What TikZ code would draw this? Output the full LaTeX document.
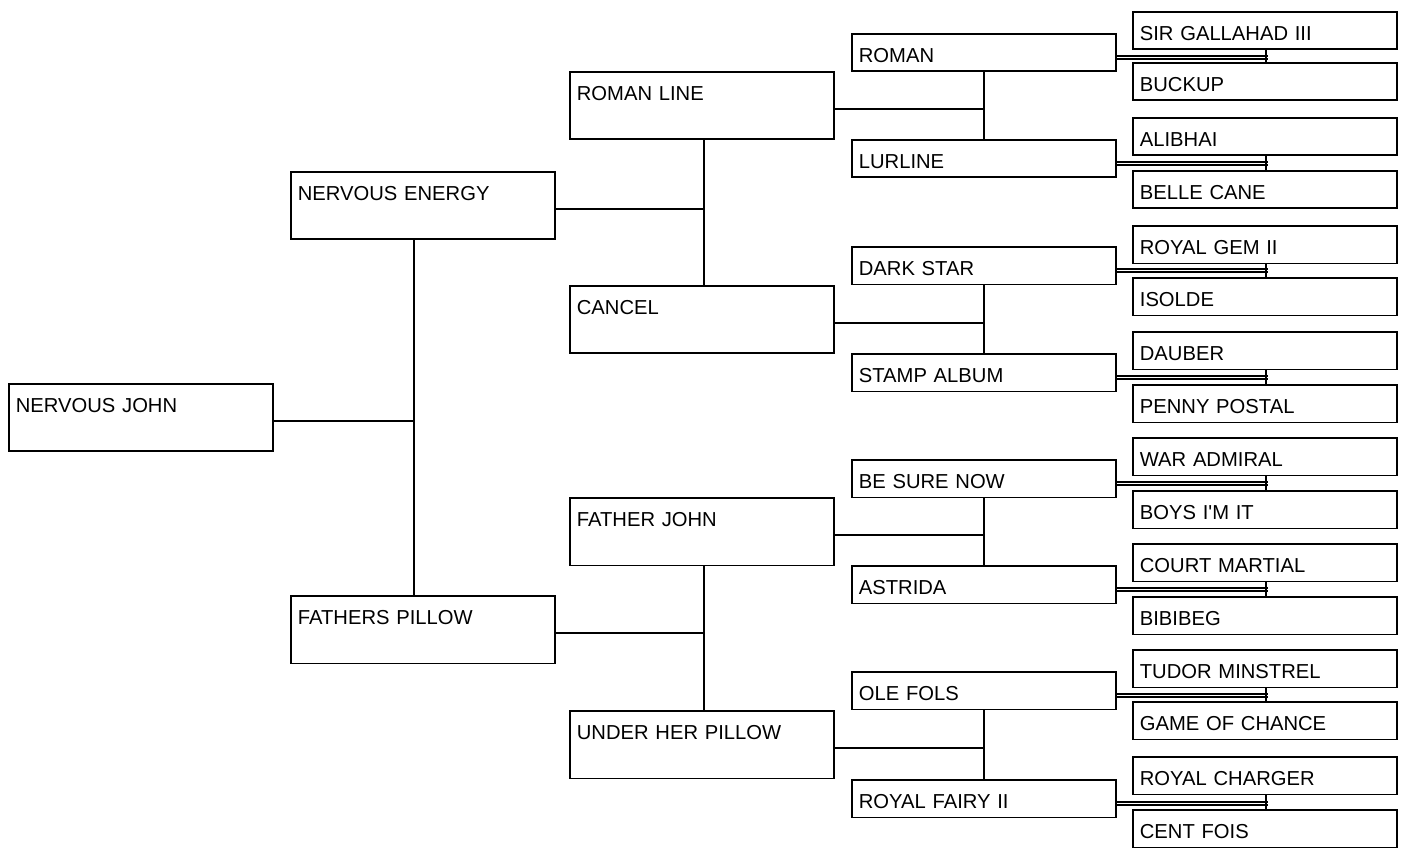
\documentclass[tikz,border=0pt]{standalone}
\usepackage{fontspec}
\setmainfont{Liberation Sans}
\usepackage{tikz}

\begin{document}
\begin{tikzpicture}[x=0.02cm, y=-0.02cm,
    horse/.style={draw, line width=1pt, anchor=north west, inner xsep=0.14cm,
      inner ysep=0pt, text width=5.0cm, align=left, text height=0.57cm,
      font=\fontsize{11.5}{13}\selectfont},
    big/.style={horse, text depth=0.78cm},
    small/.style={horse, text depth=0.18cm},
    link/.style={line width=1pt}]
  \useasboundingbox (0,0) rectangle (1405,856);
  %% Horse and parents
  \node[big] (nj) at (8,383) {NERVOUS JOHN};
  \node[big] (nenergy) at (290,171) {NERVOUS ENERGY};
  \node[big] (fpillow) at (290,595) {FATHERS PILLOW};
  %% Grandparents
  \node[big] (romanline) at (569,71) {ROMAN LINE};
  \node[big] (cancel) at (569,285) {CANCEL};
  \node[big] (fjohn) at (569,497) {FATHER JOHN};
  \node[big] (uhpillow) at (569,710) {UNDER HER PILLOW};
  %% Great-grandparents
  \node[small] (roman) at (851,33) {ROMAN};
  \node[small] (lurline) at (851,139) {LURLINE};
  \node[small] (darkstar) at (851,246) {DARK STAR};
  \node[small] (stamp) at (851,353) {STAMP ALBUM};
  \node[small] (besure) at (851,459) {BE SURE NOW};
  \node[small] (astrida) at (851,565) {ASTRIDA};
  \node[small] (olefols) at (851,671) {OLE FOLS};
  \node[small] (rfairy) at (851,779) {ROYAL FAIRY II};
  %% Fourth generation
  \node[small] (gallahad) at (1132,11) {SIR GALLAHAD III};
  \node[small] (buckup) at (1132,62) {BUCKUP};
  \node[small] (alibhai) at (1132,117) {ALIBHAI};
  \node[small] (bellecane) at (1132,170) {BELLE CANE};
  \node[small] (royalgem) at (1132,225) {ROYAL GEM II};
  \node[small] (isolde) at (1132,277) {ISOLDE};
  \node[small] (dauber) at (1132,331) {DAUBER};
  \node[small] (penny) at (1132,384) {PENNY POSTAL};
  \node[small] (waradmiral) at (1132,437) {WAR ADMIRAL};
  \node[small] (boysimit) at (1132,490) {BOYS I\textquotesingle M IT};
  \node[small] (cmartial) at (1132,543) {COURT MARTIAL};
  \node[small] (bibibeg) at (1132,596) {BIBIBEG};
  \node[small] (tudor) at (1132,649) {TUDOR MINSTREL};
  \node[small] (chance) at (1132,701) {GAME OF CHANCE};
  \node[small] (charger) at (1132,756) {ROYAL CHARGER};
  \node[small] (centfois) at (1132,809) {CENT FOIS};
  %% Junctions
  \coordinate (j1) at (414,421);
  \coordinate (j2a) at (704,209);
  \coordinate (j2b) at (704,633);
  \coordinate (j3a) at (984,109);
  \coordinate (j3b) at (984,323);
  \coordinate (j3c) at (984,535);
  \coordinate (j3d) at (984,748);
  %% Links to parents
  \draw[link] (nj.east |- j1) -- (j1);
  \draw[link] (nenergy.south -| j1) -- (fpillow.north -| j1);
  \draw[link] (nenergy.east |- j2a) -- (j2a);
  \draw[link] (romanline.south -| j2a) -- (cancel.north -| j2a);
  \draw[link] (fpillow.east |- j2b) -- (j2b);
  \draw[link] (fjohn.south -| j2b) -- (uhpillow.north -| j2b);
  \draw[link] (romanline.east |- j3a) -- (j3a);
  \draw[link] (roman.south -| j3a) -- (lurline.north -| j3a);
  \draw[link] (cancel.east |- j3b) -- (j3b);
  \draw[link] (darkstar.south -| j3b) -- (stamp.north -| j3b);
  \draw[link] (fjohn.east |- j3c) -- (j3c);
  \draw[link] (besure.south -| j3c) -- (astrida.north -| j3c);
  \draw[link] (uhpillow.east |- j3d) -- (j3d);
  \draw[link] (olefols.south -| j3d) -- (rfairy.north -| j3d);
  %% Links to the fourth generation (drawn double)
  \draw[link] (roman.east) ++(0,3) -- ++(151,0) (roman.east) ++(0,6) -- ++(151,0);
  \draw[link] (gallahad.south -| 1266,0) -- (buckup.north -| 1266,0);
  \draw[link] (lurline.east) ++(0,3) -- ++(151,0) (lurline.east) ++(0,6) -- ++(151,0);
  \draw[link] (alibhai.south -| 1266,0) -- (bellecane.north -| 1266,0);
  \draw[link] (darkstar.east) ++(0,3) -- ++(151,0) (darkstar.east) ++(0,6) -- ++(151,0);
  \draw[link] (royalgem.south -| 1266,0) -- (isolde.north -| 1266,0);
  \draw[link] (stamp.east) ++(0,3) -- ++(151,0) (stamp.east) ++(0,6) -- ++(151,0);
  \draw[link] (dauber.south -| 1266,0) -- (penny.north -| 1266,0);
  \draw[link] (besure.east) ++(0,3) -- ++(151,0) (besure.east) ++(0,6) -- ++(151,0);
  \draw[link] (waradmiral.south -| 1266,0) -- (boysimit.north -| 1266,0);
  \draw[link] (astrida.east) ++(0,3) -- ++(151,0) (astrida.east) ++(0,6) -- ++(151,0);
  \draw[link] (cmartial.south -| 1266,0) -- (bibibeg.north -| 1266,0);
  \draw[link] (olefols.east) ++(0,3) -- ++(151,0) (olefols.east) ++(0,6) -- ++(151,0);
  \draw[link] (tudor.south -| 1266,0) -- (chance.north -| 1266,0);
  \draw[link] (rfairy.east) ++(0,3) -- ++(151,0) (rfairy.east) ++(0,6) -- ++(151,0);
  \draw[link] (charger.south -| 1266,0) -- (centfois.north -| 1266,0);
\end{tikzpicture}
\end{document}
